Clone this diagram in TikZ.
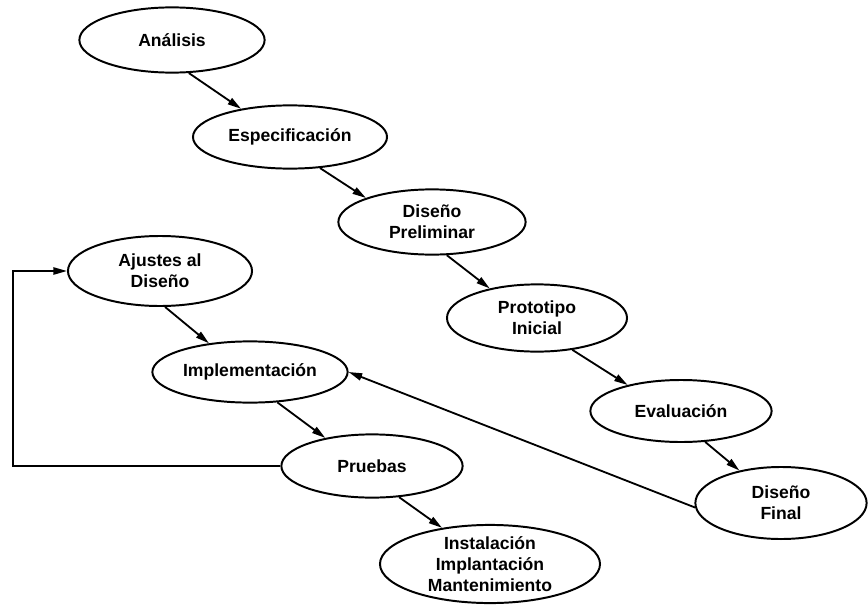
\documentclass[tikz,border=0pt]{standalone}
\usepackage{fontspec}
\setmainfont{Liberation Sans}
\usetikzlibrary{shapes.geometric, arrows.meta}

\tikzset{
    etapa/.style={ellipse, draw, line width=1.4pt, inner sep=0pt, align=center,
        minimum width=4.6cm, minimum height=1.6cm,
        font=\bfseries\fontsize{12.5}{15}\selectfont},
    flecha/.style={line width=1.3pt, -{Triangle[length=3.4mm, width=1.8mm]}}
}

\begin{document}
\begin{tikzpicture}[x=0.025cm, y=-0.025cm]
                \useasboundingbox (0,0) rectangle (868,605);
                % Main chain
                \node[etapa, minimum width=4.63cm, minimum height=1.63cm] (analisis) at (172,40) {Análisis};
                \node[etapa, minimum width=4.85cm, minimum height=1.58cm] (especif) at (290,137) {Especificación};
                \node[etapa, minimum width=4.68cm, minimum height=1.63cm] (disprelim) at (432,222) {Diseño\\Preliminar};
                \node[etapa, minimum width=4.5cm, minimum height=1.68cm] (prototipo) at (537,318) {Prototipo\\Inicial};
                \node[etapa, minimum width=4.53cm, minimum height=1.55cm] (evaluacion) at (681,411) {Evaluación};
                \node[etapa, minimum width=4.28cm, minimum height=1.8cm] (disfinal) at (781,503) {Diseño\\Final};
                % Second chain
                \node[etapa, minimum width=4.6cm, minimum height=1.75cm] (ajustes) at (160,271) {Ajustes al\\Diseño};
                \node[etapa, minimum width=4.88cm, minimum height=1.53cm] (implem) at (250,372) {Implementación};
                \node[etapa, minimum width=4.53cm, minimum height=1.58cm] (pruebas) at (372,466) {Pruebas};
                \node[etapa, minimum width=5.5cm, minimum height=1.88cm] (instal) at (490,564) {Instalación\\Implantación\\Mantenimiento};
                % Arrows
                \draw[flecha] (analisis.-63) -- (especif.150);
                \draw[flecha] (especif.-46) -- (disprelim.160);
                \draw[flecha] (disprelim.-66) -- (prototipo.148);
                \draw[flecha] (prototipo.-42) -- (evaluacion.154);
                \draw[flecha] (evaluacion.-52) -- (disfinal.142);
                \draw[flecha] (ajustes.-82) -- (implem.145);
                \draw[flecha] (implem.-48) -- (pruebas.149);
                \draw[flecha] (pruebas.-49) -- (instal.143);
                % Feedback
                \draw[flecha] (disfinal.183) -- (implem.east);
                \coordinate (esquina) at (13,466);
                \draw[flecha] (pruebas.west) -- (esquina) |- (ajustes.west);
            \end{tikzpicture}
\end{document}
